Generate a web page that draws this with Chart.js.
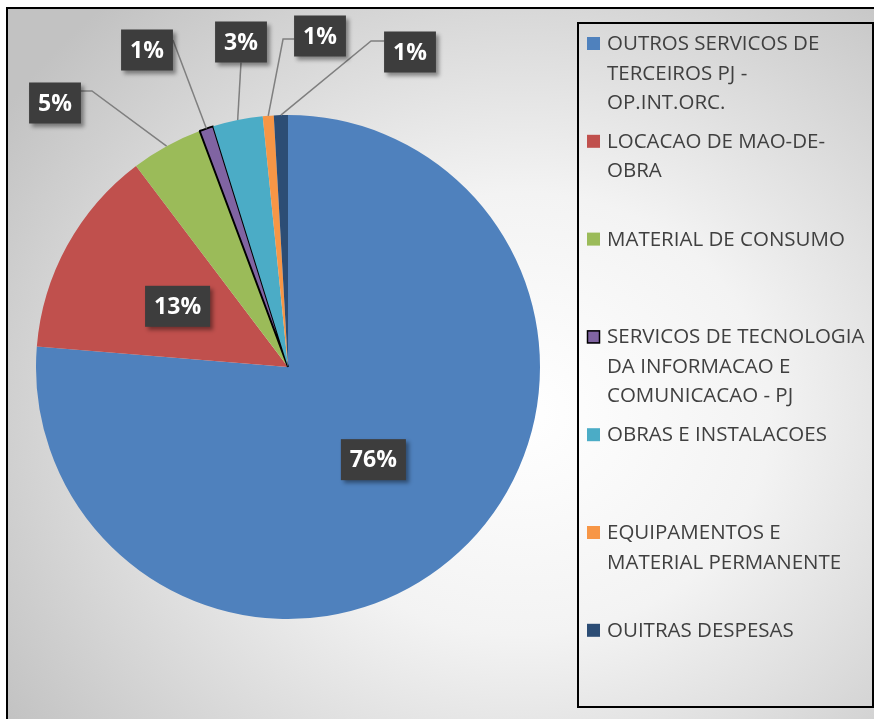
<!DOCTYPE html>
<html>
<head>
<meta charset="utf-8">
<script src="https://cdn.jsdelivr.net/npm/chart.js@4.4.0/dist/chart.umd.min.js"></script>
<style>
html,body{margin:0;padding:0;background:#fff;}
#wrap{position:absolute;left:0;top:0;width:874px;height:719px;overflow:hidden;}
#frame{position:absolute;left:6px;top:7px;width:890px;height:740px;border:2px solid #000;box-sizing:border-box;
  background:radial-gradient(ellipse 70% 75% at 58% 55%, #ffffff 0%, #f3f3f3 40%, #c2c2c2 100%);}
#chart{position:absolute;left:0;top:0;}
</style>
</head>
<body>
<div id="wrap">
  <div id="frame"></div>
  <canvas id="chart" width="874" height="719"></canvas>
</div>
<script>
var categories=[
	['OUTROS SERVICOS DE','TERCEIROS PJ -','OP.INT.ORC.'],
	['LOCACAO DE MAO-DE-','OBRA'],
	['MATERIAL DE CONSUMO'],
	['SERVICOS DE TECNOLOGIA','DA INFORMACAO E','COMUNICACAO - PJ'],
	['OBRAS E INSTALACOES'],
	['EQUIPAMENTOS E','MATERIAL PERMANENTE'],
	['OUITRAS DESPESAS']
];
var values=[76.3,13.4,4.6,0.9,3.2,0.7,0.9];
var colors=['#4F81BD','#C0504D','#9BBB59','#8064A2','#4BACC6','#F79646','#2C4D75'];
var borders=[0,0,0,2,0,0,0];

// where each data label sits (box centre offset from pie centre) and where its leader leaves the box
var labelPos=[
	{inside:true},
	{inside:true},
	{dx:-233,dy:-264,side:'right',ay:-12,elbow:11},
	{dx:-141,dy:-317,side:'right',ay:-10,elbow:0},
	{dx:-47,dy:-325,side:'bottom'},
	{dx:32,dy:-331,side:'left',ay:3,elbow:11},
	{dx:122,dy:-315,side:'left',ay:-11,elbow:13}
];

var total=values.reduce(function(a,b){return a+b;},0);

var labelPlugin={
	id:'pctLabels',
	afterDatasetsDraw:function(chart){
		var ctx=chart.ctx;
		var arcs=chart.getDatasetMeta(0).data;
		ctx.save();
		ctx.font='bold 23px "Open Sans"';
		var boxes=[];
		for(var i=0;i<arcs.length;i++){
			var a=arcs[i];
			var p=labelPos[i];
			var txt=Math.round(values[i]/total*100)+'%';
			var tw=ctx.measureText(txt).width;
			var w=tw+18,h=41;
			var cx,cy;
			if(p.inside){
				var tp=a.tooltipPosition();
				cx=tp.x;cy=tp.y;
			}else{
				cx=a.x+p.dx;cy=a.y+p.dy;
				var mid=(a.startAngle+a.endAngle)/2;
				var ex=a.x+Math.cos(mid)*a.outerRadius;
				var ey=a.y+Math.sin(mid)*a.outerRadius;
				ctx.strokeStyle='#7f7f7f';
				ctx.lineWidth=1.5;
				ctx.beginPath();
				if(p.side=='bottom'){
					ctx.moveTo(cx,cy+h/2);
				}else if(p.side=='right'){
					ctx.moveTo(cx+w/2,cy+p.ay);
					ctx.lineTo(cx+w/2+p.elbow,cy+p.ay);
				}else{
					ctx.moveTo(cx-w/2,cy+p.ay);
					ctx.lineTo(cx-w/2-p.elbow,cy+p.ay);
				}
				ctx.lineTo(ex,ey);
				ctx.stroke();
			}
			boxes.push({x:cx,y:cy,w:w,h:h,t:txt});
		}
		boxes.forEach(function(b){
			ctx.save();
			ctx.shadowColor='rgba(0,0,0,0.4)';
			ctx.shadowBlur=4;
			ctx.shadowOffsetX=3;
			ctx.shadowOffsetY=3;
			ctx.fillStyle='#3d3d3d';
			ctx.fillRect(b.x-b.w/2,b.y-b.h/2,b.w,b.h);
			ctx.restore();
			ctx.fillStyle='#fff';
			ctx.textAlign='center';
			ctx.textBaseline='middle';
			ctx.fillText(b.t,b.x,b.y+1);
		});
		ctx.restore();
	},
	afterDraw:function(chart){
		var ctx=chart.ctx;
		ctx.save();
		ctx.strokeStyle='#000';
		ctx.lineWidth=2;
		ctx.strokeRect(578,23,295,684);
		ctx.font='20.5px "Open Sans"';
		ctx.textAlign='left';
		ctx.textBaseline='alphabetic';
		for(var i=0;i<categories.length;i++){
			var base=50+i*97.8;
			ctx.fillStyle=colors[i];
			ctx.fillRect(587,base-13,13,13);
			if(borders[i]){
				ctx.strokeStyle='#000';
				ctx.lineWidth=1.5;
				ctx.strokeRect(587.5,base-12.5,12,12);
			}
			ctx.fillStyle='#404040';
			for(var j=0;j<categories[i].length;j++){
				ctx.fillText(categories[i][j],607,base+j*29.5);
			}
		}
		ctx.restore();
	}
};

var ctx=document.getElementById('chart').getContext('2d');
var pieChart=new Chart(ctx,{
	type:'pie',
	data:{
		labels:categories,
		datasets:[{
			data:values,
			backgroundColor:colors,
			borderColor:'#000',
			borderWidth:borders
		}]
	},
	options:{
		responsive:false,
		animation:false,
		events:[],
		layout:{padding:{left:35,right:333,top:114,bottom:99}},
		plugins:{legend:{display:false},tooltip:{enabled:false}}
	},
	plugins:[labelPlugin]
});
</script>
</body>
</html>
